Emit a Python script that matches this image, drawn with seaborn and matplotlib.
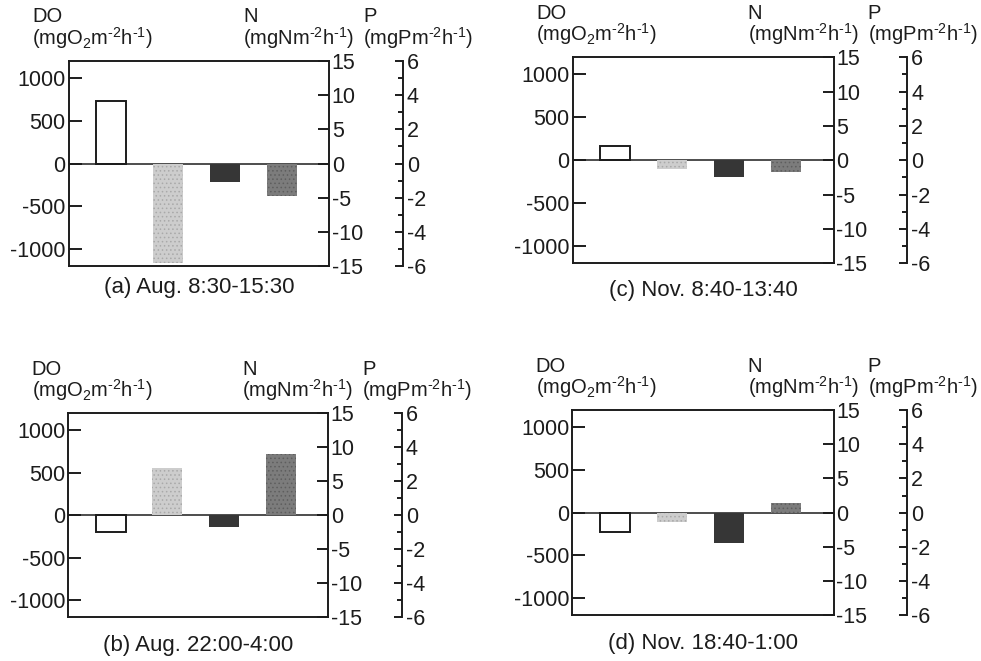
import matplotlib
matplotlib.use("Agg")
import matplotlib.pyplot as plt
import seaborn as sns
import pandas as pd

# ---------------- data ----------------
categories = ["DO", "N-1", "N-2", "P"]
panel_titles = ["(a) Aug. 8:30-15:30", "(b) Aug. 22:00-4:00",
                "(c) Nov. 8:40-13:40", "(d) Nov. 18:40-1:00"]
do_values = [730, -200, 170, -222]          # mgO2 m-2 h-1
n1_values = [-14.6, 7.0, -1.2, -1.35]       # mgN m-2 h-1 (light stipple)
n2_values = [-2.7, -1.7, -2.45, -4.4]       # mgN m-2 h-1 (black)
p_values = [-1.9, 3.6, -0.66, 0.58]         # mgP m-2 h-1 (dark stipple)

do_ticks = [-1000, -500, 0, 500, 1000]
n_ticks = [-15, -10, -5, 0, 5, 10, 15]
p_major = [-6, -4, -2, 0, 2, 4, 6]
p_minor = [-5, -3, -1, 1, 3, 5]

# ---------------- style ----------------
sns.set_theme(style="white")
plt.rcParams["font.family"] = ["Liberation Sans", "DejaVu Sans"]
plt.rcParams["axes.unicode_minus"] = False
plt.rcParams["mathtext.fontset"] = "custom"
plt.rcParams["mathtext.rm"] = "Liberation Sans"
plt.rcParams["mathtext.it"] = "Liberation Sans"
plt.rcParams["hatch.linewidth"] = 0.6
FS_HEAD = 14.5
FS_TICK = 15.5
FS_CAP = 16
INK = "#1c1c1c"
LW = 1.4

colors = {"DO": "white", "N-1": "#cdcdcd", "N-2": "#363636", "P": "#7c7c7c"}
hatch_colors = {"N-1": "#a9a9a9", "P": "#5e5e5e"}

W, H = 981, 661
fig = plt.figure(figsize=(W / 100, H / 100), dpi=100)

# axes rectangles in pixels: left, top, right, bottom
rects = [(68.5, 61, 329, 266), (68, 413.3, 328, 617.3),
         (572.5, 57.3, 833.5, 263.3), (572, 410, 833.5, 615.3)]
cap_y = [287, 645, 290, 643]

XLIM = (-0.75, 3.83)
BW = 0.53

for i in range(4):
    l, t, r, b = rects[i]
    ax = fig.add_axes([l / W, 1 - b / H, (r - l) / W, (b - t) / H])
    axn = ax.twinx()
    axp = ax.twinx()

    df_do = pd.DataFrame({"cat": ["DO"], "val": [do_values[i]]})
    df_n = pd.DataFrame({"cat": ["N-1", "N-2"], "val": [n1_values[i], n2_values[i]]})
    df_p = pd.DataFrame({"cat": ["P"], "val": [p_values[i]]})

    sns.barplot(data=df_do, x="cat", y="val", order=categories, ax=ax,
                color="white", edgecolor=INK, linewidth=1.4, width=BW,
                saturation=1)
    sns.barplot(data=df_n, x="cat", y="val", order=categories, ax=axn,
                hue="cat", palette=colors, legend=False, linewidth=0,
                width=BW, saturation=1)
    sns.barplot(data=df_p, x="cat", y="val", order=categories, ax=axp,
                hue="cat", palette=colors, legend=False, linewidth=0,
                width=BW, saturation=1)

    # stipple texture on the grey bars
    for a, cats in ((axn, ["N-1", "N-2"]), (axp, ["P"])):
        for patch, c in zip(a.patches, cats):
            if c in hatch_colors:
                patch.set_hatch("....")
                patch.set_edgecolor(hatch_colors[c])
                patch.set_linewidth(0)

    ax.axhline(0, color=INK, lw=1.1, zorder=5)

    # DO axis (left)
    ax.set_ylim(-1200, 1200)
    ax.set_yticks(do_ticks)
    ax.tick_params(axis="y", direction="in", length=9, width=LW, pad=2,
                   labelsize=FS_TICK, colors=INK, left=True)
    ax.set_ylabel("")
    for s in ax.spines.values():
        s.set_linewidth(LW)
        s.set_color(INK)

    # N axis (right of frame)
    axn.set_ylim(-15, 15)
    axn.set_yticks(n_ticks)
    axn.tick_params(axis="y", direction="in", length=8, width=LW, pad=2,
                    labelsize=FS_TICK, colors=INK, right=True)
    axn.set_ylabel("")
    for s in axn.spines.values():
        s.set_visible(False)

    # P axis (offset)
    axp.set_ylim(-6, 6)
    axp.set_yticks(p_major)
    axp.set_yticks(p_minor, minor=True)
    axp.spines["right"].set_position(("outward", 53))
    for name, s in axp.spines.items():
        s.set_visible(name == "right")
    axp.spines["right"].set_linewidth(LW)
    axp.spines["right"].set_color(INK)
    axp.tick_params(axis="y", which="major", direction="in", length=6,
                    width=LW, pad=3, labelsize=FS_TICK, colors=INK, right=True)
    axp.tick_params(axis="y", which="minor", direction="in", length=3.5,
                    width=LW, colors=INK, right=True)
    axp.set_ylabel("")

    for a in (ax, axn, axp):
        a.set_xlim(*XLIM)
        a.set_xlabel("")
        a.set_xticks([])

    # header labels
    def ftext(x, y, s, **kw):
        fig.text(x / W, 1 - y / H, s, fontsize=FS_HEAD, color=INK,
                 va="center", ha="left", **kw)

    ftext(l - 36.5, t - 44, "DO")
    ftext(l - 36.5, t - 23, r"(mgO$_\mathregular{2}$m$^\text{-2}$h$^\text{-1}$)")
    ftext(r - 86, t - 44, "N")
    ftext(r - 86, t - 23, r"(mgNm$^\text{-2}$h$^\text{-1}$)")
    ftext(r + 34, t - 44, "P")
    ftext(r + 34, t - 23, r"(mgPm$^\text{-2}$h$^\text{-1}$)")

    fig.text(((l + r) / 2) / W, 1 - cap_y[i] / H, panel_titles[i],
             fontsize=FS_CAP, color=INK, ha="center", va="center")

fig.savefig("out.png", dpi=100, facecolor="white")
